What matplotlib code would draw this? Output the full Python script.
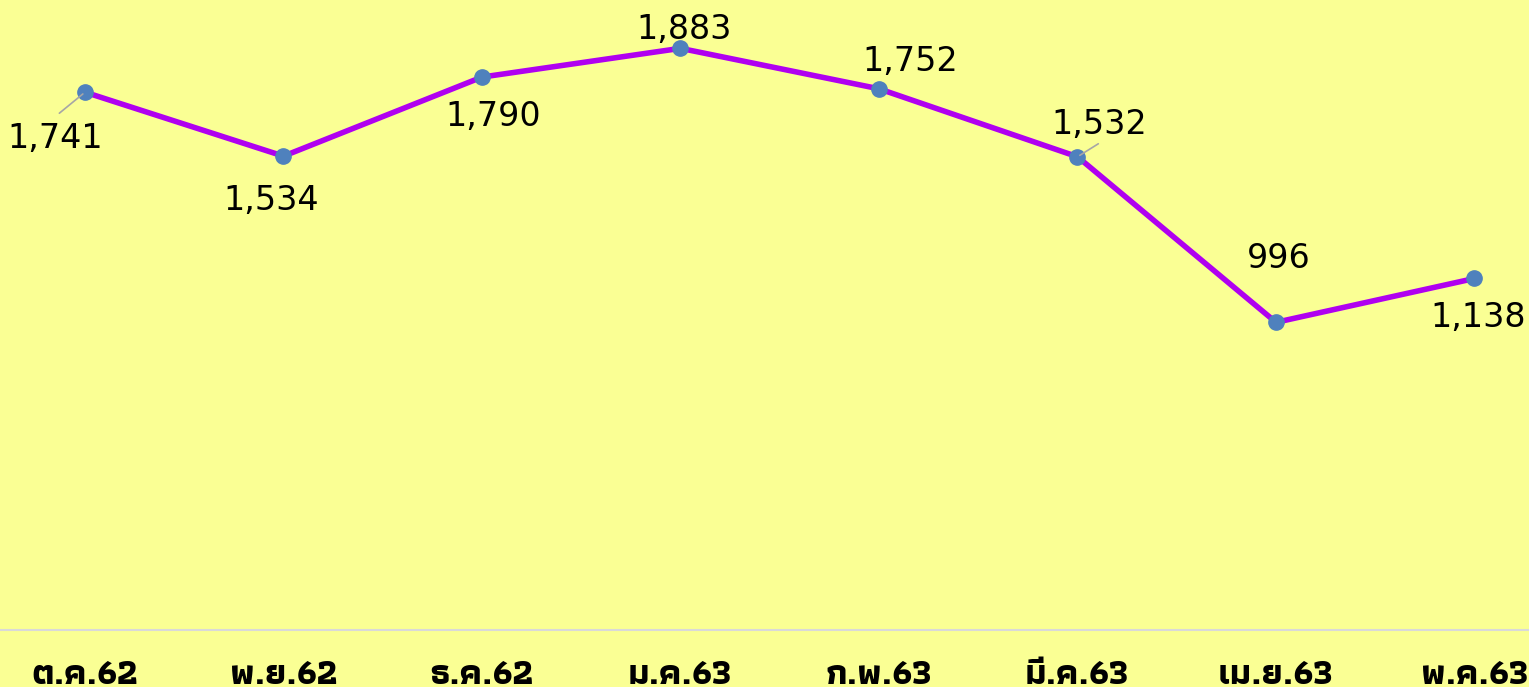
import matplotlib
matplotlib.use('Agg')
import matplotlib.pyplot as plt
import matplotlib.patheffects as pe
from matplotlib import font_manager
from matplotlib.ft2font import FT2Font

# เดือนและจำนวน
months = ['ต.ค.62', 'พ.ย.62', 'ธ.ค.62', 'ม.ค.63', 'ก.พ.63', 'มี.ค.63', 'เม.ย.63', 'พ.ค.63']
counts = [1741, 1534, 1790, 1883, 1752, 1532, 996, 1138]

# ตำแหน่งป้ายตัวเลข (พิกเซล) เทียบกับจุด
label_offsets = [(-30, -56), (-12, -54), (11, -49), (4, 9), (31, 18), (22, 23), (3, 54), (4, -49)]
leader = [True, False, False, False, False, True, False, False]

# หาฟอนต์ที่มีอักษรไทย (เลือกตัวที่มีแบบหนาก่อน)
thai_regular, thai_bold = set(), set()
for f in font_manager.fontManager.ttflist:
    try:
        if 0x0E01 in FT2Font(f.fname).get_charmap():
            w = f.weight if isinstance(f.weight, int) else 400
            (thai_bold if w >= 600 else thai_regular).add(f.name)
    except Exception:
        pass
if thai_bold:
    thai_font, fake_bold = sorted(thai_bold)[0], False
else:
    thai_font, fake_bold = (sorted(thai_regular)[0] if thai_regular else 'DejaVu Sans'), True

bg = '#FAFF94'
W, H, dpi = 1529, 687, 100
fig = plt.figure(figsize=(W / dpi, H / dpi), dpi=dpi, facecolor=bg)

# พื้นที่กราฟ: แกน x ที่ y=630 px, ช่องละ ~198.5 px
step = 198.5
left = (85 - step / 2) / W
width = step * len(months) / W
bottom = (H - 630) / H
ax = fig.add_axes([left, bottom, width, 1 - bottom])
ax.set_facecolor(bg)

x = list(range(len(months)))
ax.plot(x, counts, color='#B000F0', lw=4, zorder=2)
ax.plot(x, counts, 'o', color='#4F81BD', ms=11, zorder=3)

ax.set_xlim(-0.5, len(months) - 0.5)
ax.set_ylim(0, 630 / 0.3089)

for i, (v, (dx, dy)) in enumerate(zip(counts, label_offsets)):
    ax.annotate(f'{v:,}', (i, v), xytext=(dx, dy), textcoords='offset pixels',
                ha='center', va='baseline', fontsize=24, family='DejaVu Sans',
                color='black', zorder=4)
    if leader[i]:
        sx = dx * 0.95
        sy = dy + (35 if dy < 0 else -10)
        ax.annotate('', (i, v), xytext=(sx * 0.9 + (2 if dx > 0 else 0), sy),
                    textcoords='offset pixels',
                    arrowprops=dict(arrowstyle='-', color='#A6A6A6', lw=1.2,
                                    shrinkA=0, shrinkB=2))

for s in ['top', 'right', 'left']:
    ax.spines[s].set_visible(False)
ax.spines['bottom'].set_color('#D9D9D9')
ax.spines['bottom'].set_linewidth(1.5)
ax.set_yticks([])
ax.set_xticks(x)
ax.set_xticklabels([])
ax.tick_params(axis='x', length=0)

effects = [pe.withStroke(linewidth=1.8, foreground='black')] if fake_bold else []
for i, m in enumerate(months):
    ax.text(i, -(684 - 630) / 630, m, transform=ax.get_xaxis_transform(),
            ha='center', va='baseline', fontsize=26, fontweight='bold',
            family=[thai_font, 'DejaVu Sans'], color='black',
            path_effects=effects)

fig.savefig('out.png', dpi=dpi, facecolor=bg)
